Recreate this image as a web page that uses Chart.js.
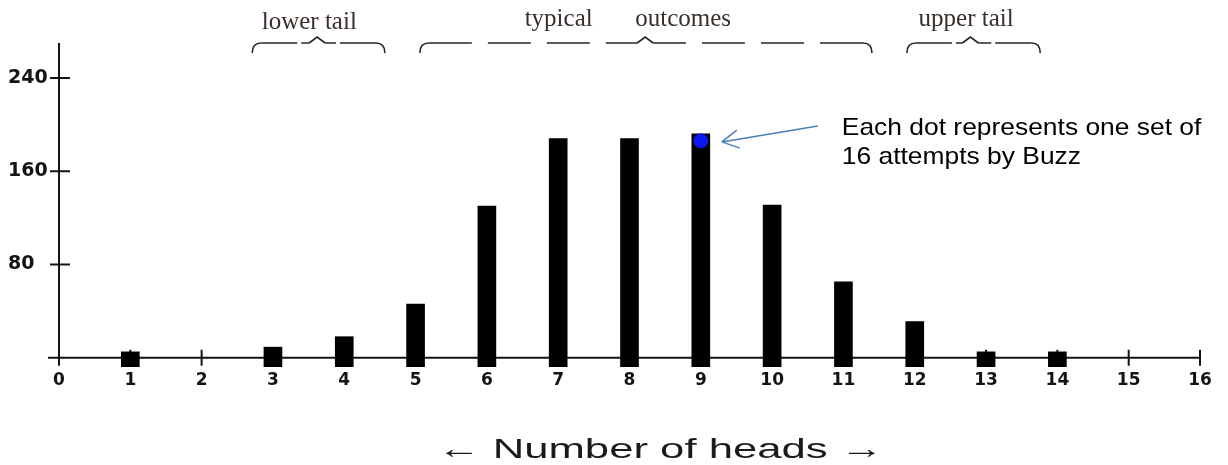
<!DOCTYPE html>
<html>
<head>
<meta charset="utf-8">
<script src="https://cdn.jsdelivr.net/npm/chart.js@4.4.1/dist/chart.umd.min.js"></script>
<style>
  html, body { margin: 0; background: #fff; }
  #wrap { width: 1228px; height: 465px; position: relative; }
</style>
</head>
<body>
<div id="wrap"><canvas id="headsChart"></canvas></div>
<script>
// number of heads in 16 tosses, and how many sets gave that count
const heads = [1, 3, 4, 5, 6, 7, 8, 9, 10, 11, 12, 13, 14];
const counts = [5, 9, 18, 46, 130, 188, 188, 192, 131, 65, 31, 5, 5];
const xTicks = [0, 1, 2, 3, 4, 5, 6, 7, 8, 9, 10, 11, 12, 13, 14, 15, 16];
const yTicks = [80, 160, 240];
// the highlighted single dot
const dotX = [9];
const dotY = [186];
const axisTitle = '\u2190 Number of heads \u2192';
const noteLines = ['Each dot represents one set of', '16 attempts by Buzz'];

// annotation layout (x in data units)
const braces = [
  { texts: [['lower tail', 3.51, 'center']], from: 2.71, to: 4.57, peak: 3.62, dash: [36, 4], base: 29 },
  { texts: [['typical', 6.53, 'left'], ['outcomes', 8.08, 'left']], from: 5.06, to: 11.40, peak: 8.22, dash: [43, 16], base: 26 },
  { texts: [['upper tail', 12.72, 'center']], from: 11.89, to: 13.76, peak: 12.78, dash: [36, 4], base: 26 }
];

const ink = '#141414';

const overlay = {
  id: 'overlay',
  beforeDatasetsDraw(chart) {
    const { ctx, chartArea, scales: { x, y } } = chart;
    const x0 = x.getPixelForValue(0);
    const y0 = y.getPixelForValue(0);
    ctx.save();
    ctx.strokeStyle = ink;
    ctx.lineWidth = 2;
    ctx.beginPath();
    ctx.moveTo(x0, chartArea.top);
    ctx.lineTo(x0, y0 + 4);
    ctx.moveTo(x0 - 11, y0);
    ctx.lineTo(x.getPixelForValue(16), y0);
    xTicks.forEach(v => {
      const px = x.getPixelForValue(v);
      ctx.moveTo(px, y0 - 8);
      ctx.lineTo(px, y0 + 8);
    });
    yTicks.forEach(v => {
      const py = y.getPixelForValue(v);
      ctx.moveTo(x0 - 9, py);
      ctx.lineTo(x0 + 11, py);
    });
    ctx.stroke();
    ctx.restore();
  },
  afterDatasetsDraw(chart) {
    const { ctx, scales: { x, y } } = chart;
    ctx.save();

    // braces over the tails / typical range
    braces.forEach(b => {
      const l = x.getPixelForValue(b.from), r = x.getPixelForValue(b.to), p = x.getPixelForValue(b.peak);
      const hy = 43;
      ctx.strokeStyle = '#2a2522';
      ctx.lineWidth = 1.6;
      // solid curls and centre point
      ctx.setLineDash([]);
      ctx.beginPath();
      ctx.moveTo(l, 53);
      ctx.quadraticCurveTo(l, hy, l + 9, hy);
      ctx.moveTo(p - 8, hy);
      ctx.lineTo(p, hy - 6);
      ctx.lineTo(p + 8, hy);
      ctx.moveTo(r - 9, hy);
      ctx.quadraticCurveTo(r, hy, r, 53);
      ctx.stroke();
      // dashed straight runs
      ctx.setLineDash(b.dash);
      ctx.beginPath();
      ctx.moveTo(l + 9, hy);
      ctx.lineTo(p - 8, hy);
      ctx.stroke();
      ctx.beginPath();
      ctx.moveTo(r - 9, hy);
      ctx.lineTo(p + 8, hy);
      ctx.stroke();
      ctx.setLineDash([]);
      ctx.fillStyle = '#3a2f2b';
      ctx.font = '25px "Liberation Serif", "Times New Roman", serif';
      ctx.textBaseline = 'alphabetic';
      b.texts.forEach(([t, v, align]) => {
        ctx.textAlign = align;
        ctx.fillText(t, x.getPixelForValue(v), b.base);
      });
    });

    // arrow pointing to the dot
    const tipX = x.getPixelForValue(dotX[0]) + 21;
    const tipY = y.getPixelForValue(dotY[0]) + 1;
    const tailX = tipX + 96, tailY = tipY - 16;
    const ang = Math.atan2(tailY - tipY, tailX - tipX);
    ctx.strokeStyle = '#4a7ebb';
    ctx.lineWidth = 1.5;
    ctx.beginPath();
    ctx.moveTo(tailX, tailY);
    ctx.lineTo(tipX, tipY);
    [-0.5, 0.5].forEach(d => {
      ctx.moveTo(tipX, tipY);
      ctx.lineTo(tipX + 19 * Math.cos(ang + d), tipY + 19 * Math.sin(ang + d));
    });
    ctx.stroke();

    // note text
    ctx.fillStyle = '#000';
    ctx.font = '24px "Liberation Sans", Arial, sans-serif';
    ctx.textAlign = 'left';
    noteLines.forEach((line, i) => {
      ctx.save();
      ctx.translate(tailX + 24, 135 + i * 29);
      ctx.scale(1.1, 1);
      ctx.fillText(line, 0, 0);
      ctx.restore();
    });

    // stretched axis title
    ctx.save();
    ctx.translate(x.getPixelForValue(8.43), 458);
    ctx.scale(1.56, 1);
    ctx.fillStyle = '#1a1a1a';
    ctx.font = '28px "Liberation Sans", Arial, sans-serif';
    ctx.textAlign = 'center';
    ctx.fillText(axisTitle, 0, 0);
    ctx.restore();

    ctx.restore();
  }
};

const xFont = { family: '"DejaVu Sans", sans-serif', weight: 'bold', size: 17 };
const yFont = { family: '"DejaVu Sans", sans-serif', weight: 'bold', size: 19 };

new Chart(document.getElementById('headsChart'), {
  type: 'bar',
  data: {
    datasets: [
      {
        type: 'scatter',
        data: dotX.map((v, i) => ({ x: v, y: dotY[i] })),
        backgroundColor: '#0b18f2',
        borderColor: '#0b18f2',
        pointRadius: 7,
        order: 0
      },
      {
        type: 'bar',
        data: heads.map((h, i) => ({ x: h, y: counts[i] })),
        backgroundColor: '#000',
        barThickness: 18,
        base: -8,
        order: 1
      }
    ]
  },
  options: {
    animation: false,
    responsive: true,
    maintainAspectRatio: false,
    layout: { padding: { top: 43, left: 8, right: 28, bottom: 0 } },
    plugins: { legend: { display: false }, tooltip: { enabled: false } },
    scales: {
      x: {
        type: 'linear', min: 0, max: 16, offset: false,
        grid: { display: false, drawTicks: false },
        border: { display: false },
        afterBuildTicks: s => { s.ticks = xTicks.map(v => ({ value: v })); },
        afterFit: s => { s.height = 98; },
        ticks: { padding: 3, font: xFont, color: ink, maxRotation: 0, autoSkip: false }
      },
      y: {
        min: -8, max: 270,
        grid: { display: false, drawTicks: false },
        border: { display: false },
        afterBuildTicks: s => { s.ticks = yTicks.map(v => ({ value: v })); },
        afterFit: s => { s.width = 51; },
        ticks: { crossAlign: 'far', padding: 0, font: yFont, color: ink }
      }
    }
  },
  plugins: [overlay]
});
</script>
</body>
</html>
